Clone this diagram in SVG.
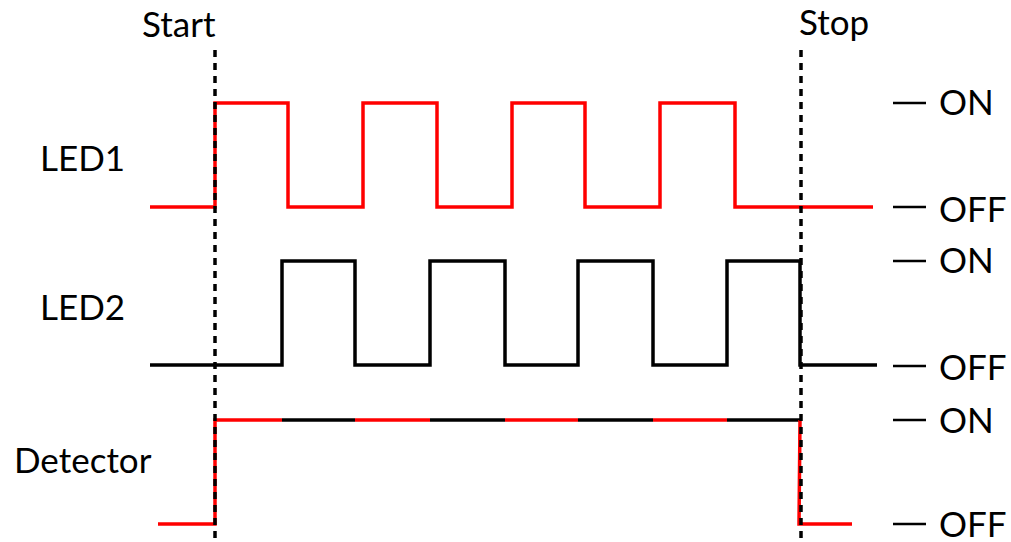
<svg xmlns="http://www.w3.org/2000/svg" width="1011" height="542" viewBox="0 0 1011 542">
  <style>
    text { font-family: Lato, "Open Sans", "Liberation Sans", sans-serif; font-size: 35px; fill: #000; }
    .sig { fill: none; stroke-width: 3.5; stroke-linejoin: miter; stroke-linecap: butt; }
    .red { stroke: #ff0000; }
    .blk { stroke: #000; }
    .marker { fill: none; stroke: #000; stroke-width: 3.5; stroke-dasharray: 7 6; }
    .tick { stroke: #000; stroke-width: 2.5; }
  </style>
  <rect width="1011" height="542" fill="#fff"/>

  <!-- signal row labels -->
  <g id="label-led1"><text x="40" y="171">LED1</text></g>
  <g id="label-led2"><text x="40" y="320">LED2</text></g>
  <g id="label-detector"><text x="14" y="473">Detector</text></g>

  <!-- LED1 waveform -->
  <g id="led1">
    <path class="sig red" d="M150,207 H215 V103 H288 V207 H363 V103 H437 V207 H512 V103 H585 V207 H660 V103 H735 V207 H873"/>
  </g>

  <!-- LED2 waveform -->
  <g id="led2">
    <path class="sig blk" d="M150,365 H282 V261 H355 V365 H430 V261 H505 V365 H578 V261 H653 V365 H727 V261 H800 V365 H877"/>
  </g>

  <!-- Detector waveform: colour follows whichever LED is on -->
  <g id="detector">
    <path class="sig red" d="M158,524 H215 V420 H282"/>
    <path class="sig blk" d="M282,420 H355"/>
    <path class="sig red" d="M355,420 H430"/>
    <path class="sig blk" d="M430,420 H505"/>
    <path class="sig red" d="M505,420 H578"/>
    <path class="sig blk" d="M578,420 H653"/>
    <path class="sig red" d="M653,420 H727"/>
    <path class="sig blk" d="M727,420 H800"/>
    <path class="sig red" d="M800,420 L799,524 H852"/>
  </g>

  <!-- start / stop time markers -->
  <g id="connectors">
    <line class="marker" x1="215" y1="50" x2="215" y2="542"/>
    <line class="marker" x1="801" y1="50" x2="801" y2="542"/>
  </g>
  <g id="label-start"><text x="142" y="37">Start</text></g>
  <g id="label-stop"><text x="799" y="35">Stop</text></g>

  <!-- level legends -->
  <g id="levels">
    <line class="tick" x1="893" y1="103" x2="926" y2="103"/>
    <line class="tick" x1="893" y1="207" x2="926" y2="207"/>
    <line class="tick" x1="893" y1="261" x2="926" y2="261"/>
    <line class="tick" x1="893" y1="366" x2="926" y2="366"/>
    <line class="tick" x1="893" y1="420" x2="926" y2="420"/>
    <line class="tick" x1="893" y1="524" x2="926" y2="524"/>
    <text x="939" y="115">ON</text>
    <text x="939" y="222">OFF</text>
    <text x="939" y="273">ON</text>
    <text x="939" y="380">OFF</text>
    <text x="939" y="433">ON</text>
    <text x="939" y="537">OFF</text>
  </g>
</svg>
